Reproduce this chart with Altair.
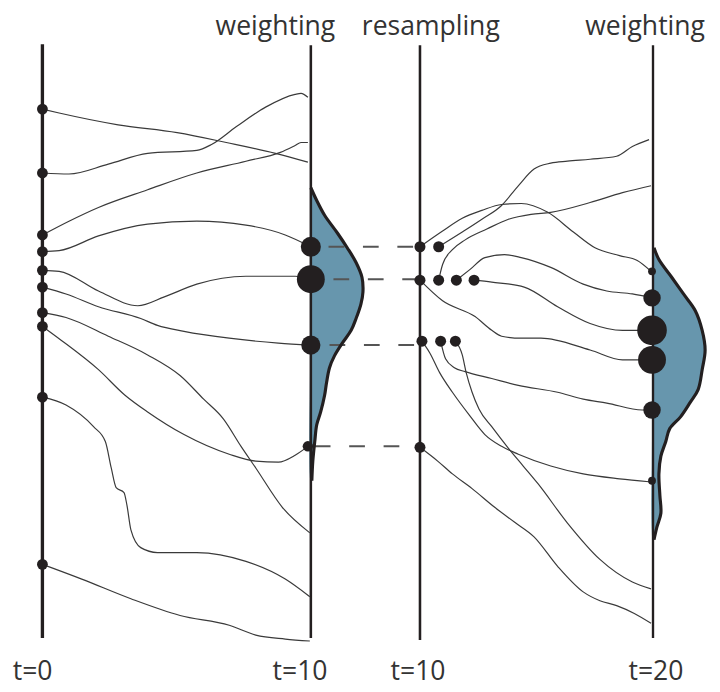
import math
import altair as alt
import pandas as pd

# ---------------- data (drawing units: horizontal position / vertical state) ----------------
# four vertical time axes: t=0, t=10 (weighting), t=10 (resampling), t=20 (weighting)
axis_x = [43, 316, 427, 664]
axis_top = [36, 37, 37, 37]
axis_bottom = [640, 640, 642, 640]
axis_width = [3.4, 2.6, 2.6, 2.4]

# particles at t=0
p0_x = [43] * 10
p0_y = [102, 167, 230, 247, 266, 283, 309, 323, 395, 565]
p0_r = [6.2] * 10

# trajectories t=0 -> t=10
trajA_x = [43, 60, 120, 180, 230, 280, 313]
trajA_y = [102, 106, 118, 126, 136, 147, 156]
trajB_x = [43, 70, 110, 150, 200, 215, 240, 270, 300, 306, 313]
trajB_y = [167, 168, 158, 147, 144, 138, 120, 100, 87, 86, 90]
trajC_x = [43, 70, 100, 150, 200, 250, 285, 300, 306, 313]
trajC_y = [230, 216, 202, 184, 167, 155, 146, 139, 136, 136]
trajD_x = [43, 60, 100, 150, 200, 250, 290, 316]
trajD_y = [247, 246, 231, 219, 216, 220, 230, 242]
trajE_x = [43, 60, 100, 140, 167, 200, 250, 300, 316]
trajE_y = [266, 267, 287, 302, 293, 280, 272, 272, 275]
trajF_x = [43, 67, 100, 143, 160, 187, 233, 283, 316]
trajF_y = [283, 290, 303, 315, 322, 328, 335, 340, 342]
trajG_x = [43, 67, 110, 150, 183, 207, 227, 245, 260, 287, 315]
trajG_y = [309, 314, 333, 352, 373, 397, 417, 445, 467, 507, 533]
trajH_x = [43, 62, 100, 127, 150, 187, 233, 260, 283, 300, 313]
trajH_y = [323, 337, 367, 393, 410, 433, 453, 460, 461, 454, 445]
trajI_x = [43, 67, 95, 107, 113, 118, 126, 129, 133, 143, 160, 200, 250, 290, 315]
trajI_y = [395, 403, 425, 440, 467, 487, 492, 505, 530, 548, 553, 553, 562, 580, 598]
trajJ_x = [43, 83, 133, 183, 233, 260, 290, 315]
trajJ_y = [565, 580, 600, 617, 627, 637, 641, 643]

# weighted particles at t=10
w10_x = [316, 316, 316, 313]
w10_y = [242, 275, 342, 445]
w10_r = [11.5, 16, 11, 6]

# weight density at t=10 (outer edge)
dens10_y = [182, 195, 210, 228, 243, 258, 273, 288, 300, 315, 327, 340, 353, 365, 380,
            393, 410, 423, 440, 460, 480]
dens10_x = [316, 322, 330, 343, 353, 362, 368, 369, 367, 362, 357, 348, 340, 335, 332,
            330, 326, 322, 320, 318, 317]

# resampling links (dashed)
link_y = [242, 275, 342, 445]
link_start = [334, 339, 335, 320]

# resampled particles at t=10
rs_x = [427, 446, 427, 446, 464, 482, 429, 448, 463, 427]
rs_y = [242, 242, 276, 276, 276, 276, 338, 338, 338, 446]
rs_r = [6.3] * 10

# trajectories t=10 -> t=20
trajR1_x = [427, 450, 470, 490, 510, 530, 557, 583, 605, 630, 648, 662]
trajR1_y = [242, 226, 213, 205, 199, 198, 207, 227, 243, 251, 256, 267]
trajR2_x = [446, 470, 490, 510, 527, 543, 560, 577, 600, 627, 643, 660]
trajR2_y = [242, 227, 214, 200, 180, 163, 157, 155, 153, 150, 140, 133]
trajR3_x = [446, 450, 460, 473, 495, 517, 540, 560, 600, 633, 662]
trajR3_y = [276, 260, 245, 235, 224, 214, 209, 207, 197, 187, 180]
trajR4_x = [464, 478, 493, 513, 530, 560, 593, 617, 643, 663]
trajR4_y = [276, 265, 253, 250, 253, 263, 280, 287, 290, 294]
trajR5_x = [482, 500, 533, 567, 600, 633, 663]
trajR5_y = [276, 278, 283, 303, 320, 327, 327]
trajR6_x = [427, 450, 483, 500, 510, 530, 550, 600, 633, 663]
trajR6_y = [276, 297, 313, 327, 333, 335, 335, 347, 357, 357]
trajR7_x = [429, 437, 447, 460, 477, 493, 510, 527, 560, 593, 630, 660]
trajR7_y = [338, 350, 370, 390, 413, 433, 445, 453, 465, 473, 478, 481]
trajR8_x = [448, 453, 462, 473, 500, 527, 567, 593, 617, 653, 663]
trajR8_y = [338, 356, 365, 369, 376, 383, 390, 397, 401, 408, 408]
trajR9_x = [463, 470, 474, 480, 487, 500, 517, 532, 547, 577, 610, 643, 662]
trajR9_y = [338, 352, 370, 390, 407, 425, 447, 465, 483, 523, 560, 583, 590]
trajR10_x = [427, 445, 460, 480, 503, 523, 543, 567, 593, 610, 627, 645, 662]
trajR10_y = [446, 460, 473, 488, 507, 522, 537, 567, 593, 602, 607, 615, 625]

# weighted particles at t=20
w20_x = [663, 663, 663, 663, 663, 663]
w20_y = [267, 294, 327, 357, 408, 480]
w20_r = [4.5, 10, 17, 16, 10, 4.5]

# weight density at t=20 (outer edge)
dens20_y = [243, 255, 273, 290, 307, 327, 347, 367, 387, 400, 415, 427, 440, 455, 473,
            495, 513, 527, 540]
dens20_x = [665, 670, 683, 695, 707, 714, 717, 714, 710, 702, 692, 681, 677, 672, 670,
            671, 672, 668, 665]

# labels
top_labels = ["weighting", "resampling", "weighting"]
top_x = [280, 438, 656]
top_y = [27, 27, 27]
bottom_labels = ["t=0", "t=10", "t=10", "t=20"]
bottom_x = [33, 305, 425, 667]
bottom_y = [683, 683, 683, 683]

# ---------------- tables ----------------
INK = "#231f20"
LINE = "#3a3a3a"
FILL = "#6796ad"

trajs = {
    "A": (trajA_x, trajA_y), "B": (trajB_x, trajB_y), "C": (trajC_x, trajC_y),
    "D": (trajD_x, trajD_y), "E": (trajE_x, trajE_y), "F": (trajF_x, trajF_y),
    "G": (trajG_x, trajG_y), "H": (trajH_x, trajH_y), "I": (trajI_x, trajI_y),
    "J": (trajJ_x, trajJ_y),
    "R1": (trajR1_x, trajR1_y), "R2": (trajR2_x, trajR2_y), "R3": (trajR3_x, trajR3_y),
    "R4": (trajR4_x, trajR4_y), "R5": (trajR5_x, trajR5_y), "R6": (trajR6_x, trajR6_y),
    "R7": (trajR7_x, trajR7_y), "R8": (trajR8_x, trajR8_y), "R9": (trajR9_x, trajR9_y),
    "R10": (trajR10_x, trajR10_y),
}
traj_rows = []
for name, (xs_, ys_) in trajs.items():
    for i, (x, y) in enumerate(zip(xs_, ys_)):
        traj_rows.append({"path": name, "i": i, "x": x, "y": y})
traj_df = pd.DataFrame(traj_rows)


def edge_table(ys_, xs_):
    return pd.DataFrame({"i": list(range(len(ys_))), "y": ys_, "x": xs_})


def polygon_table(ys_, xs_, base):
    # outer edge, then back up along the time axis to close the shape
    py = list(ys_) + [ys_[-1] - 1, (ys_[-1] + ys_[0]) / 2, ys_[0] + 1]
    px = list(xs_) + [base, base, base]
    return pd.DataFrame({"i": list(range(len(py))), "y": py, "x": px})


edge10_df = edge_table(dens10_y, dens10_x)
edge20_df = edge_table(dens20_y, dens20_x)
poly10_df = polygon_table(dens10_y, dens10_x, axis_x[1])
poly20_df = polygon_table(dens20_y, dens20_x, axis_x[3])

axis_df = pd.DataFrame({"x": axis_x, "y": axis_top, "y2": axis_bottom, "w": axis_width})
link_df = pd.DataFrame({"x": link_start, "x2": [axis_x[2]] * 4, "y": link_y})

dot_x = p0_x + w10_x + rs_x + w20_x
dot_y = p0_y + w10_y + rs_y + w20_y
dot_r = p0_r + w10_r + rs_r + w20_r
dot_df = pd.DataFrame({"x": dot_x, "y": dot_y, "area": [math.pi * r * r for r in dot_r]})

label_df = pd.DataFrame({
    "text": top_labels + bottom_labels,
    "x": top_x + bottom_x,
    "y": top_y + bottom_y,
})

# ---------------- scales ----------------
xs = alt.Scale(domain=[8, 712], nice=False, zero=False)
ys = alt.Scale(domain=[8, 684], nice=False, zero=False, reverse=True)


def X(f="x"):
    return alt.X(f"{f}:Q", scale=xs, axis=None)


def Y(f="y"):
    return alt.Y(f"{f}:Q", scale=ys, axis=None)


def density_fill(df):
    return alt.Chart(df).mark_line(
        interpolate="catmull-rom", fill=FILL, fillOpacity=1, stroke=FILL, strokeWidth=0.5
    ).encode(x=X(), y=Y(), order=alt.Order("i:Q"))


def density_outline(df):
    return alt.Chart(df).mark_line(
        interpolate="catmull-rom", color=INK, strokeWidth=3.2
    ).encode(x=X(), y=Y(), order=alt.Order("i:Q"))


links = alt.Chart(link_df).mark_rule(
    color="#555555", strokeWidth=2, strokeDash=[16, 19]
).encode(x=X(), x2="x2:Q", y=Y())

axes = alt.Chart(axis_df).mark_rule(color=INK).encode(
    x=X(), y=Y(), y2="y2:Q", strokeWidth=alt.StrokeWidth("w:Q", scale=None)
)

paths = alt.Chart(traj_df).mark_line(
    interpolate="monotone", color=LINE, strokeWidth=1.2
).encode(x=X(), y=Y(), detail="path:N", order=alt.Order("i:Q"))

dots = alt.Chart(dot_df).mark_circle(color=INK, opacity=1).encode(
    x=X(), y=Y(), size=alt.Size("area:Q", scale=None)
)

labels = alt.Chart(label_df).mark_text(
    font="Open Sans", fontSize=27, color="#333333", align="center", baseline="alphabetic"
).encode(x=X(), y=Y(), text="text:N")

chart = alt.layer(
    density_fill(poly10_df), density_fill(poly20_df), links, axes,
    density_outline(edge10_df), density_outline(edge20_df), paths, dots, labels
).properties(width=704, height=676, padding=0).configure_view(strokeWidth=0)

chart.save("out.html", embed_options={"renderer": "svg", "actions": False})
